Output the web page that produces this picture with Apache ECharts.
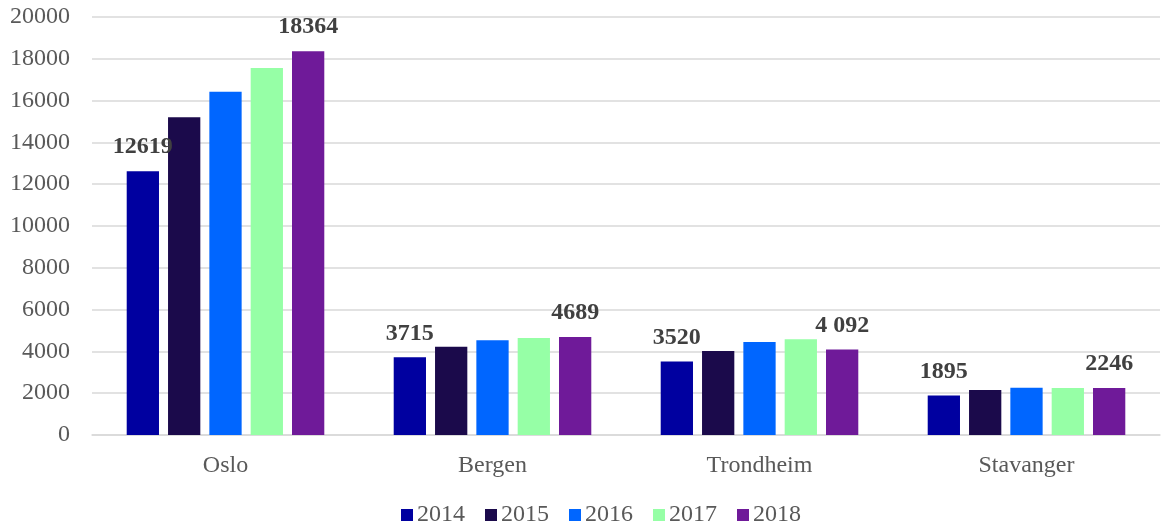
<!DOCTYPE html>
<html>
<head>
<meta charset="utf-8">
<script src="https://cdn.jsdelivr.net/npm/echarts@6/dist/echarts.min.js"></script>
<style>
  html, body { margin: 0; padding: 0; background: #fff; }
  #chart { width: 1163px; height: 526px; }
</style>
</head>
<body>
<div id="chart"></div>
<script>
// data
const cities = ['Oslo', 'Bergen', 'Trondheim', 'Stavanger']
const years = ['2014', '2015', '2016', '2017', '2018']
const v2014 = [12619, 3715, 3520, 1895]
const v2015 = [15200, 4220, 4020, 2150]
const v2016 = [16420, 4530, 4450, 2260]
const v2017 = [17560, 4640, 4580, 2250]
const v2018 = [18364, 4689, 4092, 2246]
// labels as printed (only first and last year carry them)
const labels2014 = ['12619', '3715', '3520', '1895']
const labels2018 = ['18364', '4689', '4 092', '2246']
const colors = ['#0000A0', '#1B0A4B', '#0066FF', '#96FFA6', '#6F1A99']

const font = '"Liberation Serif", "Times New Roman", serif'
const values = [v2014, v2015, v2016, v2017, v2018]

function labelFor(texts) {
  return {
    show: true,
    position: 'top',
    distance: 12,
    color: '#404040',
    fontFamily: font,
    fontWeight: 'bold',
    fontSize: 24,
    formatter: (p) => texts[p.dataIndex]
  }
}

const series = years.map((y, i) => ({
  name: y,
  type: 'bar',
  data: values[i],
  barGap: '28%',
  barCategoryGap: '26%',
  itemStyle: { color: colors[i] },
  label: i === 0 ? labelFor(labels2014) : (i === 4 ? labelFor(labels2018) : { show: false })
}))

let options = {
  animation: false,
  grid: { left: 92, right: 3, top: 17, bottom: 91, containLabel: false },
  legend: {
    data: years,
    bottom: -6,
    left: 396,
    itemWidth: 12,
    itemHeight: 12,
    itemGap: 20,
    icon: 'rect',
    textStyle: { color: '#595959', fontFamily: font, fontSize: 24, padding: [0, 0, 0, -1] }
  },
  xAxis: {
    type: 'category',
    data: cities,
    axisTick: { show: false },
    axisLine: { lineStyle: { color: '#d9d9d9', width: 1.5 } },
    axisLabel: { color: '#595959', fontFamily: font, fontSize: 24, margin: 19 }
  },
  yAxis: {
    type: 'value',
    min: 0,
    max: 20000,
    interval: 2000,
    axisLine: { show: false },
    axisTick: { show: false },
    splitLine: { lineStyle: { color: '#d9d9d9', width: 1.5 } },
    axisLabel: {
      color: '#595959', fontFamily: font, fontSize: 24, margin: 22,
      formatter: (v) => String(v)
    }
  },
  series: series
}

let chart = echarts.init(document.getElementById('chart'))
chart.setOption(options)
</script>
</body>
</html>
